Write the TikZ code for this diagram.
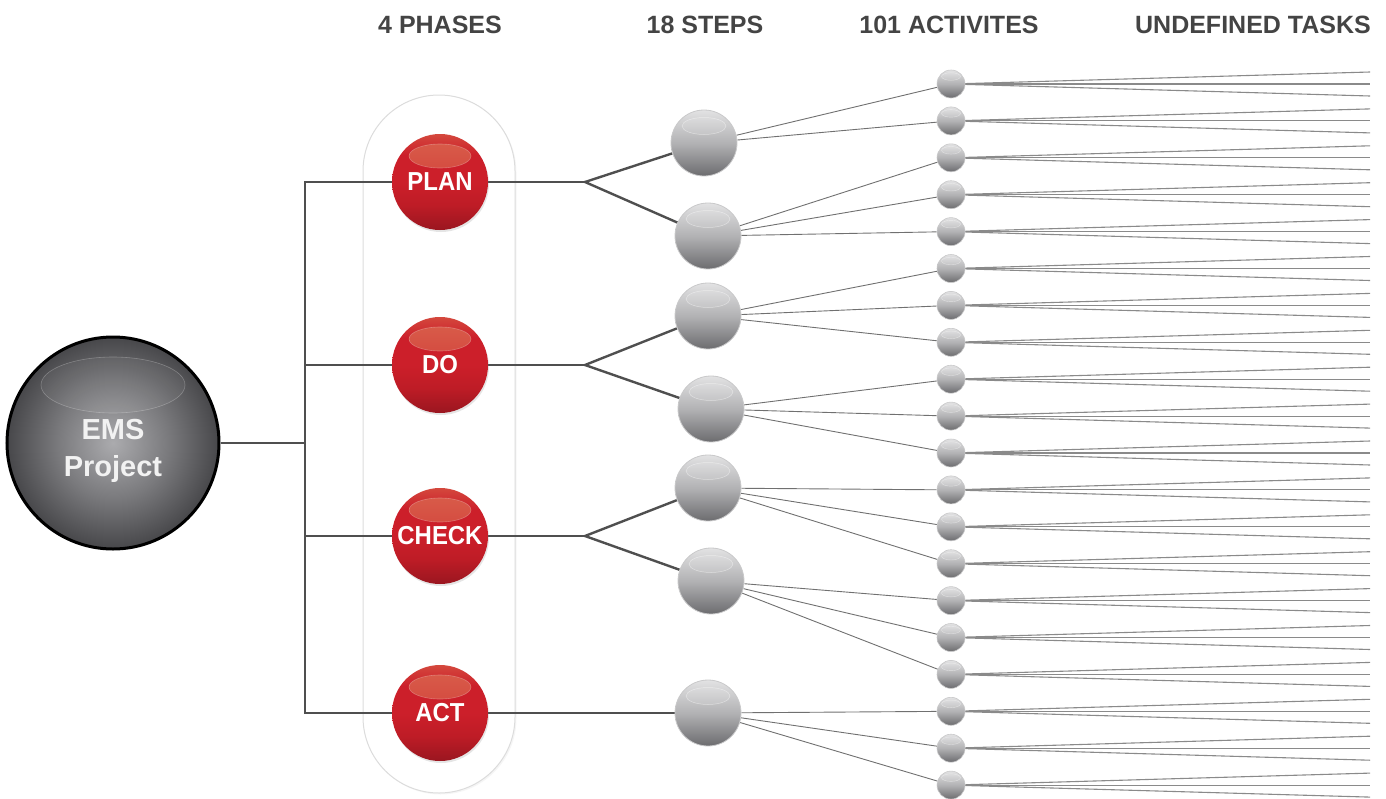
\documentclass[tikz,border=0pt]{standalone}
\usepackage{fontspec}
\setmainfont{Liberation Sans}
\newfontfamily\condsans[FakeStretch=0.92]{Liberation Sans}
\usetikzlibrary{shadows}
\definecolor{linedark}{HTML}{4F4F4F}
\definecolor{linethin}{HTML}{707070}
\definecolor{linetask}{HTML}{8A8A8A}
\definecolor{headgray}{HTML}{444444}
\definecolor{rtop}{HTML}{D4483D}
\definecolor{rmid}{HTML}{CC1F2A}
\definecolor{rlow}{HTML}{BE1C26}
\definecolor{rbot}{HTML}{9A1620}
\definecolor{rhl}{HTML}{D9604C}
\definecolor{rhlb}{HTML}{CD2A2D}
\definecolor{gtop}{HTML}{E2E2E3}
\definecolor{gmid}{HTML}{B2B2B4}
\definecolor{gbot}{HTML}{6C6C6F}
\definecolor{gedge}{HTML}{C9C9CA}
\definecolor{eins}{HTML}{ABABAE}
\definecolor{emid}{HTML}{7A7A7D}
\definecolor{eout}{HTML}{47474A}
\definecolor{capedge}{HTML}{DCDCDC}
\pgfdeclareverticalshading{redball}{100bp}{color(0bp)=(rbot); color(25bp)=(rbot); color(38bp)=(rlow); color(50bp)=(rmid); color(64bp)=(rmid); color(75bp)=(rtop); color(100bp)=(rtop)}
\pgfdeclareverticalshading{grayball}{100bp}{color(0bp)=(gbot); color(25bp)=(gbot); color(50bp)=(gmid); color(75bp)=(gtop); color(100bp)=(gtop)}
\pgfdeclareradialshading{emsshade}{\pgfpoint{0bp}{0bp}}{color(0bp)=(eins); color(13bp)=(emid); color(25bp)=(eout); color(50bp)=(eout)}
\pgfdeclarelayer{back}
\pgfdeclarelayer{mid}
\pgfsetlayers{back,mid,main}
\begin{document}
\begin{tikzpicture}[x=1pt,y=-1pt,
  conn/.style={draw=linedark, line width=2.4pt},
  thinconn/.style={draw=linethin, line width=0.9pt},
  taskline/.style={draw=linetask, line width=1.1pt},
  head/.style={text=headgray, font=\bfseries\fontsize{25}{30}\selectfont, anchor=base, inner sep=0pt},
  capsule/.style={fill=white, draw=capedge, line width=1pt, rounded corners=76pt,
    drop shadow={shadow xshift=1.5pt, shadow yshift=-1.5pt, opacity=.08}},
  phase/.style={circle, inner sep=0pt, minimum size=96pt, shade, shading=redball, text=white,
    font=\condsans\bfseries\fontsize{26}{30}\selectfont,
    drop shadow={shadow xshift=1pt, shadow yshift=-2pt, opacity=.2},
    path picture={\shadedraw[top color=rhl, bottom color=rhlb, draw=white, draw opacity=.28, line width=.6pt]
      ([yshift=26pt]path picture bounding box.center) ellipse [x radius=31pt, y radius=12pt];}},
  stepball/.style={circle, inner sep=0pt, minimum size=66pt, shade, shading=grayball, draw=gedge, line width=.8pt,
    path picture={\draw[white, draw opacity=.45, fill=white, fill opacity=.1, line width=.5pt]
      ([yshift=17pt]path picture bounding box.center) ellipse [x radius=22pt, y radius=8.5pt];}},
  actball/.style={circle, inner sep=0pt, minimum size=28pt, shade, shading=grayball, draw=gedge, line width=.6pt,
    path picture={\draw[white, draw opacity=.45, fill=white, fill opacity=.1, line width=.4pt]
      ([yshift=7.5pt]path picture bounding box.center) ellipse [x radius=9.5pt, y radius=3.8pt];}},
  emsnode/.style={circle, inner sep=0pt, minimum size=212pt, shade, shading=emsshade, draw=black, line width=3pt,
    path picture={\draw[white, draw opacity=.25, fill=white, fill opacity=.05, line width=.6pt]
      ([yshift=58pt]path picture bounding box.center) ellipse [x radius=72pt, y radius=28pt];}},
  emstext/.style={inner sep=0pt, anchor=north, text=white!95!black, align=center,
    font=\bfseries\fontsize{29}{37}\selectfont}
]
\useasboundingbox (0,0) rectangle (1386,798);

% headers
\node[head] (h1) at (440,33) {4 PHASES};
\node[head] (h2) at (705,33) {18 STEPS};
\node[head] (h3) at (949,33) {101 ACTIVITES};
\node[head, anchor=base east] (h4) at (1371,33) {UNDEFINED TASKS};

% capsule behind phases
\begin{pgfonlayer}{back}
\draw[capsule] (363,95) rectangle (515,793);
\end{pgfonlayer}

% project
\node[emsnode] (ems) at (113,443) {};
\node[emstext] (emslabel) at (113,419) {EMS\\Project};

% phases
\node[phase] (pplan) at (440,182) {PLAN};
\node[phase] (pdo) at (440,365) {DO};
\node[phase] (pcheck) at (440,536) {CHECK};
\node[phase] (pact) at (440,713) {ACT};

% steps
\node[stepball] (s1) at (704,143) {};
\node[stepball] (s2) at (708,236) {};
\node[stepball] (s3) at (708,316) {};
\node[stepball] (s4) at (711,409) {};
\node[stepball] (s5) at (708,488) {};
\node[stepball] (s6) at (711,581) {};
\node[stepball] (s7) at (708,713) {};

% activities
\foreach \i in {0,...,19}{
  \pgfmathsetmacro\ay{84+36.9*\i}
  \node[actball] (a\i) at (951,\ay) {};
}

% junction coordinates
\coordinate (je) at (305,443);
\coordinate (jp) at (305,182);
\coordinate (jd) at (305,365);
\coordinate (jc) at (305,536);
\coordinate (ja) at (305,713);
\coordinate (b1) at (585,182);
\coordinate (b2) at (585,365);
\coordinate (b3) at (585,536);

\begin{pgfonlayer}{mid}
\draw[conn] (ems) -- (je);
\draw[conn] (pplan) -- (jp) -- (ja) -- (pact);
\draw[conn] (pdo) -- (jd);
\draw[conn] (pcheck) -- (jc);
\draw[conn] (pplan) -- (b1);
\draw[conn] (s1) -- (b1) -- (s2);
\draw[conn] (pdo) -- (b2);
\draw[conn] (s3) -- (b2) -- (s4);
\draw[conn] (pcheck) -- (b3);
\draw[conn] (s5) -- (b3) -- (s6);
\draw[conn] (pact) -- (s7);
\foreach \a in {0,...,19}{
  \pgfmathtruncatemacro\s{ifthenelse(\a<2,1,floor((\a-2)/3)+2)}
  \draw[thinconn] (s\s) -- (a\a);
  \pgfmathsetmacro\ay{84+36.9*\a}
  \foreach \d [count=\k] in {-12,0,12}{
    \pgfmathsetmacro\ty{\ay+\d}
    \coordinate (t\a-\k) at (1370,\ty);
    \draw[taskline] (a\a) -- (t\a-\k);
  }
}
\end{pgfonlayer}
\end{tikzpicture}
\end{document}
